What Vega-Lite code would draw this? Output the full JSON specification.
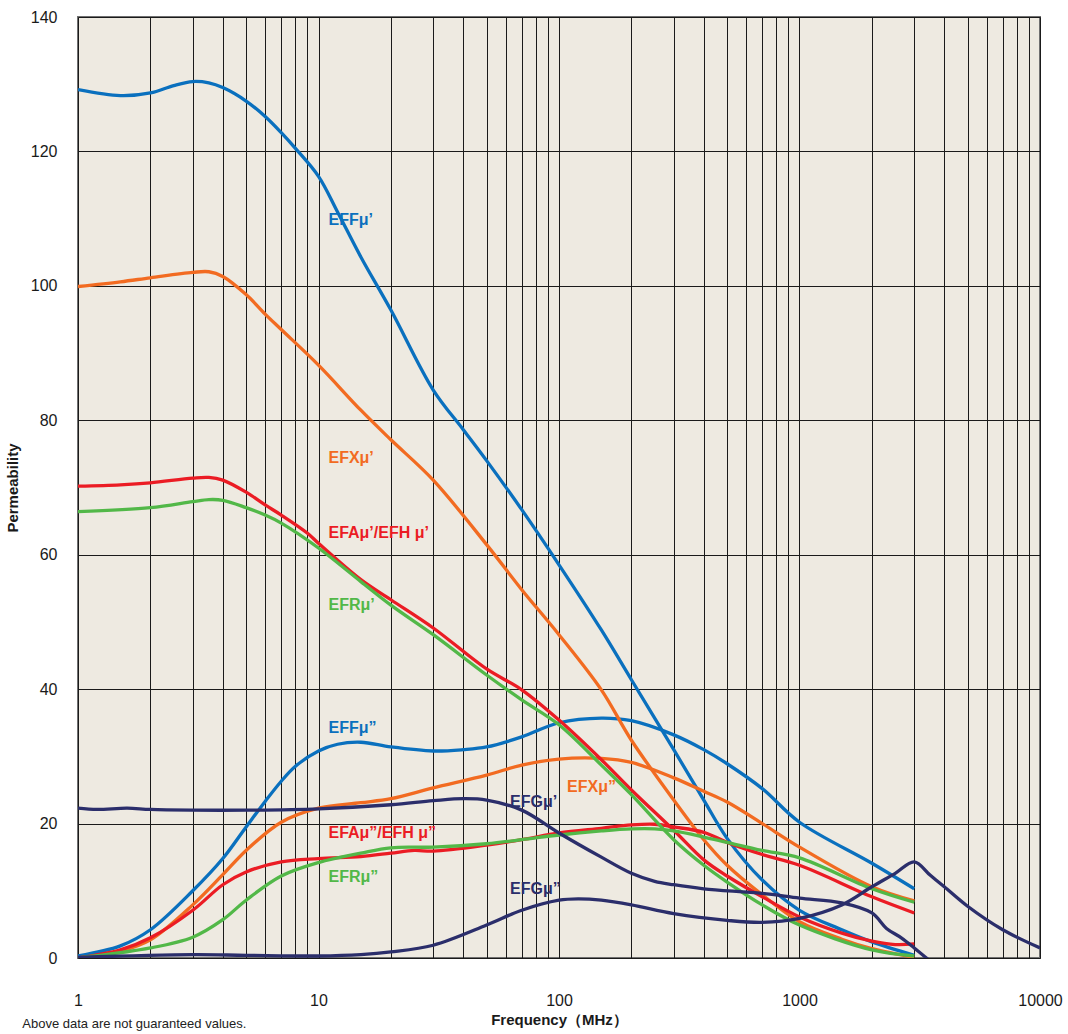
{
  "$schema": "https://vega.github.io/schema/vega-lite/v6.json",
  "width": 962,
  "height": 941,
  "autosize": {"type": "none"},
  "padding": {"left": 78, "top": 17, "right": 28, "bottom": 76},
  "background": "white",
  "title": {
    "text": "Above data are not guaranteed values.",
    "orient": "bottom",
    "anchor": "start",
    "frame": "bounds",
    "fontSize": 13,
    "fontWeight": "normal",
    "font": "Liberation Sans",
    "color": "#222222",
    "offset": -9,
    "dx": 17
  },
  "config": {
    "view": {"fill": "#EEEAE1", "stroke": "#707070", "strokeWidth": 2},
    "font": "Liberation Sans"
  },
  "datasets": {
    "curves": [
      {"g": "EFF", "s": "EFF1", "f": 1, "v": 129.2}, {"g": "EFF", "s": "EFF1", "f": 1.5, "v": 128.3}, {"g": "EFF", "s": "EFF1", "f": 2, "v": 128.7}, {"g": "EFF", "s": "EFF1", "f": 2.5, "v": 129.8}, {"g": "EFF", "s": "EFF1", "f": 3, "v": 130.4}, {"g": "EFF", "s": "EFF1", "f": 3.5, "v": 130.2}, {"g": "EFF", "s": "EFF1", "f": 4, "v": 129.5}, {"g": "EFF", "s": "EFF1", "f": 5, "v": 127.5}, {"g": "EFF", "s": "EFF1", "f": 6, "v": 125.2}, {"g": "EFF", "s": "EFF1", "f": 7, "v": 122.8}, {"g": "EFF", "s": "EFF1", "f": 8, "v": 120.5}, {"g": "EFF", "s": "EFF1", "f": 10, "v": 116.3}, {"g": "EFF", "s": "EFF1", "f": 12, "v": 111}, {"g": "EFF", "s": "EFF1", "f": 15, "v": 104.3}, {"g": "EFF", "s": "EFF1", "f": 20, "v": 96.4}, {"g": "EFF", "s": "EFF1", "f": 30, "v": 84.5}, {"g": "EFF", "s": "EFF1", "f": 40, "v": 78.6}, {"g": "EFF", "s": "EFF1", "f": 50, "v": 74}, {"g": "EFF", "s": "EFF1", "f": 70, "v": 66.7}, {"g": "EFF", "s": "EFF1", "f": 100, "v": 58.5}, {"g": "EFF", "s": "EFF1", "f": 150, "v": 48.8}, {"g": "EFF", "s": "EFF1", "f": 200, "v": 41.4}, {"g": "EFF", "s": "EFF1", "f": 300, "v": 31}, {"g": "EFF", "s": "EFF1", "f": 400, "v": 23.5}, {"g": "EFF", "s": "EFF1", "f": 500, "v": 17.8}, {"g": "EFF", "s": "EFF1", "f": 700, "v": 11.6}, {"g": "EFF", "s": "EFF1", "f": 1000, "v": 7.1}, {"g": "EFF", "s": "EFF1", "f": 1500, "v": 4.2}, {"g": "EFF", "s": "EFF1", "f": 2000, "v": 2.4}, {"g": "EFF", "s": "EFF1", "f": 3000, "v": 0.4},

      {"g": "EFF", "s": "EFF2", "f": 1, "v": 0.3}, {"g": "EFF", "s": "EFF2", "f": 1.5, "v": 1.8}, {"g": "EFF", "s": "EFF2", "f": 2, "v": 4.2}, {"g": "EFF", "s": "EFF2", "f": 3, "v": 10}, {"g": "EFF", "s": "EFF2", "f": 4, "v": 14.8}, {"g": "EFF", "s": "EFF2", "f": 5, "v": 19.5}, {"g": "EFF", "s": "EFF2", "f": 6, "v": 23.3}, {"g": "EFF", "s": "EFF2", "f": 7, "v": 26.3}, {"g": "EFF", "s": "EFF2", "f": 8, "v": 28.5}, {"g": "EFF", "s": "EFF2", "f": 10, "v": 30.8}, {"g": "EFF", "s": "EFF2", "f": 12, "v": 31.8}, {"g": "EFF", "s": "EFF2", "f": 15, "v": 32.1}, {"g": "EFF", "s": "EFF2", "f": 20, "v": 31.4}, {"g": "EFF", "s": "EFF2", "f": 30, "v": 30.8}, {"g": "EFF", "s": "EFF2", "f": 40, "v": 31}, {"g": "EFF", "s": "EFF2", "f": 50, "v": 31.4}, {"g": "EFF", "s": "EFF2", "f": 70, "v": 32.9}, {"g": "EFF", "s": "EFF2", "f": 100, "v": 35}, {"g": "EFF", "s": "EFF2", "f": 150, "v": 35.7}, {"g": "EFF", "s": "EFF2", "f": 200, "v": 35.3}, {"g": "EFF", "s": "EFF2", "f": 300, "v": 33.2}, {"g": "EFF", "s": "EFF2", "f": 400, "v": 31}, {"g": "EFF", "s": "EFF2", "f": 500, "v": 28.9}, {"g": "EFF", "s": "EFF2", "f": 700, "v": 25.2}, {"g": "EFF", "s": "EFF2", "f": 1000, "v": 20.2}, {"g": "EFF", "s": "EFF2", "f": 2000, "v": 14.1}, {"g": "EFF", "s": "EFF2", "f": 3000, "v": 10.3},

      {"g": "EFX", "s": "EFX1", "f": 1, "v": 99.9}, {"g": "EFX", "s": "EFX1", "f": 1.5, "v": 100.6}, {"g": "EFX", "s": "EFX1", "f": 2, "v": 101.2}, {"g": "EFX", "s": "EFX1", "f": 3, "v": 102}, {"g": "EFX", "s": "EFX1", "f": 3.5, "v": 102.1}, {"g": "EFX", "s": "EFX1", "f": 4, "v": 101.4}, {"g": "EFX", "s": "EFX1", "f": 5, "v": 98.7}, {"g": "EFX", "s": "EFX1", "f": 6, "v": 95.8}, {"g": "EFX", "s": "EFX1", "f": 7, "v": 93.5}, {"g": "EFX", "s": "EFX1", "f": 10, "v": 88.2}, {"g": "EFX", "s": "EFX1", "f": 15, "v": 81.5}, {"g": "EFX", "s": "EFX1", "f": 20, "v": 77.1}, {"g": "EFX", "s": "EFX1", "f": 30, "v": 71.1}, {"g": "EFX", "s": "EFX1", "f": 50, "v": 61.5}, {"g": "EFX", "s": "EFX1", "f": 70, "v": 54.8}, {"g": "EFX", "s": "EFX1", "f": 100, "v": 48.1}, {"g": "EFX", "s": "EFX1", "f": 150, "v": 39.9}, {"g": "EFX", "s": "EFX1", "f": 200, "v": 32.4}, {"g": "EFX", "s": "EFX1", "f": 300, "v": 23.5}, {"g": "EFX", "s": "EFX1", "f": 400, "v": 17.6}, {"g": "EFX", "s": "EFX1", "f": 500, "v": 13.8}, {"g": "EFX", "s": "EFX1", "f": 700, "v": 9.4}, {"g": "EFX", "s": "EFX1", "f": 1000, "v": 5.4}, {"g": "EFX", "s": "EFX1", "f": 1500, "v": 2.8}, {"g": "EFX", "s": "EFX1", "f": 2000, "v": 1.4}, {"g": "EFX", "s": "EFX1", "f": 3000, "v": 0.1},

      {"g": "EFX", "s": "EFX2", "f": 1, "v": 0}, {"g": "EFX", "s": "EFX2", "f": 1.5, "v": 1}, {"g": "EFX", "s": "EFX2", "f": 2, "v": 2.7}, {"g": "EFX", "s": "EFX2", "f": 3, "v": 7.9}, {"g": "EFX", "s": "EFX2", "f": 4, "v": 12.4}, {"g": "EFX", "s": "EFX2", "f": 5, "v": 16}, {"g": "EFX", "s": "EFX2", "f": 7, "v": 20.2}, {"g": "EFX", "s": "EFX2", "f": 10, "v": 22.3}, {"g": "EFX", "s": "EFX2", "f": 15, "v": 23.1}, {"g": "EFX", "s": "EFX2", "f": 20, "v": 23.7}, {"g": "EFX", "s": "EFX2", "f": 30, "v": 25.3}, {"g": "EFX", "s": "EFX2", "f": 50, "v": 27.2}, {"g": "EFX", "s": "EFX2", "f": 70, "v": 28.7}, {"g": "EFX", "s": "EFX2", "f": 100, "v": 29.6}, {"g": "EFX", "s": "EFX2", "f": 150, "v": 29.7}, {"g": "EFX", "s": "EFX2", "f": 200, "v": 29.1}, {"g": "EFX", "s": "EFX2", "f": 300, "v": 26.8}, {"g": "EFX", "s": "EFX2", "f": 400, "v": 24.8}, {"g": "EFX", "s": "EFX2", "f": 500, "v": 23.2}, {"g": "EFX", "s": "EFX2", "f": 700, "v": 20}, {"g": "EFX", "s": "EFX2", "f": 1000, "v": 16.5}, {"g": "EFX", "s": "EFX2", "f": 2000, "v": 10.6}, {"g": "EFX", "s": "EFX2", "f": 3000, "v": 8.5},

      {"g": "EFA", "s": "EFA1", "f": 1, "v": 70.2}, {"g": "EFA", "s": "EFA1", "f": 1.5, "v": 70.4}, {"g": "EFA", "s": "EFA1", "f": 2, "v": 70.7}, {"g": "EFA", "s": "EFA1", "f": 3, "v": 71.4}, {"g": "EFA", "s": "EFA1", "f": 3.5, "v": 71.5}, {"g": "EFA", "s": "EFA1", "f": 4, "v": 71.1}, {"g": "EFA", "s": "EFA1", "f": 5, "v": 69.3}, {"g": "EFA", "s": "EFA1", "f": 6, "v": 67.4}, {"g": "EFA", "s": "EFA1", "f": 7, "v": 65.9}, {"g": "EFA", "s": "EFA1", "f": 9, "v": 63.2}, {"g": "EFA", "s": "EFA1", "f": 10, "v": 61.7}, {"g": "EFA", "s": "EFA1", "f": 15, "v": 56.3}, {"g": "EFA", "s": "EFA1", "f": 20, "v": 53.3}, {"g": "EFA", "s": "EFA1", "f": 30, "v": 49.1}, {"g": "EFA", "s": "EFA1", "f": 50, "v": 43}, {"g": "EFA", "s": "EFA1", "f": 70, "v": 39.9}, {"g": "EFA", "s": "EFA1", "f": 100, "v": 35.4}, {"g": "EFA", "s": "EFA1", "f": 150, "v": 29.5}, {"g": "EFA", "s": "EFA1", "f": 200, "v": 25}, {"g": "EFA", "s": "EFA1", "f": 300, "v": 19}, {"g": "EFA", "s": "EFA1", "f": 400, "v": 14.6}, {"g": "EFA", "s": "EFA1", "f": 500, "v": 12.2}, {"g": "EFA", "s": "EFA1", "f": 700, "v": 9.1}, {"g": "EFA", "s": "EFA1", "f": 1000, "v": 6.1}, {"g": "EFA", "s": "EFA1", "f": 1500, "v": 3.7}, {"g": "EFA", "s": "EFA1", "f": 2000, "v": 2.5}, {"g": "EFA", "s": "EFA1", "f": 2500, "v": 2}, {"g": "EFA", "s": "EFA1", "f": 3000, "v": 2.1},

      {"g": "EFA", "s": "EFA2", "f": 1, "v": 0}, {"g": "EFA", "s": "EFA2", "f": 1.5, "v": 1.2}, {"g": "EFA", "s": "EFA2", "f": 2, "v": 3}, {"g": "EFA", "s": "EFA2", "f": 3, "v": 7.1}, {"g": "EFA", "s": "EFA2", "f": 4, "v": 10.9}, {"g": "EFA", "s": "EFA2", "f": 5, "v": 12.8}, {"g": "EFA", "s": "EFA2", "f": 7, "v": 14.3}, {"g": "EFA", "s": "EFA2", "f": 10, "v": 14.8}, {"g": "EFA", "s": "EFA2", "f": 15, "v": 15.1}, {"g": "EFA", "s": "EFA2", "f": 20, "v": 15.6}, {"g": "EFA", "s": "EFA2", "f": 25, "v": 16}, {"g": "EFA", "s": "EFA2", "f": 30, "v": 15.9}, {"g": "EFA", "s": "EFA2", "f": 50, "v": 16.8}, {"g": "EFA", "s": "EFA2", "f": 70, "v": 17.6}, {"g": "EFA", "s": "EFA2", "f": 100, "v": 18.6}, {"g": "EFA", "s": "EFA2", "f": 150, "v": 19.3}, {"g": "EFA", "s": "EFA2", "f": 200, "v": 19.8}, {"g": "EFA", "s": "EFA2", "f": 250, "v": 19.9}, {"g": "EFA", "s": "EFA2", "f": 300, "v": 19.5}, {"g": "EFA", "s": "EFA2", "f": 400, "v": 18.7}, {"g": "EFA", "s": "EFA2", "f": 500, "v": 17.2}, {"g": "EFA", "s": "EFA2", "f": 700, "v": 15.4}, {"g": "EFA", "s": "EFA2", "f": 1000, "v": 13.8}, {"g": "EFA", "s": "EFA2", "f": 2000, "v": 9.1}, {"g": "EFA", "s": "EFA2", "f": 3000, "v": 6.7},

      {"g": "EFR", "s": "EFR1", "f": 1, "v": 66.4}, {"g": "EFR", "s": "EFR1", "f": 2, "v": 67}, {"g": "EFR", "s": "EFR1", "f": 3, "v": 67.9}, {"g": "EFR", "s": "EFR1", "f": 3.5, "v": 68.2}, {"g": "EFR", "s": "EFR1", "f": 4, "v": 68.1}, {"g": "EFR", "s": "EFR1", "f": 5, "v": 67}, {"g": "EFR", "s": "EFR1", "f": 6, "v": 65.9}, {"g": "EFR", "s": "EFR1", "f": 7, "v": 64.7}, {"g": "EFR", "s": "EFR1", "f": 10, "v": 61}, {"g": "EFR", "s": "EFR1", "f": 15, "v": 56}, {"g": "EFR", "s": "EFR1", "f": 20, "v": 52.5}, {"g": "EFR", "s": "EFR1", "f": 30, "v": 48.1}, {"g": "EFR", "s": "EFR1", "f": 50, "v": 42.1}, {"g": "EFR", "s": "EFR1", "f": 70, "v": 38.4}, {"g": "EFR", "s": "EFR1", "f": 100, "v": 34.7}, {"g": "EFR", "s": "EFR1", "f": 150, "v": 28.7}, {"g": "EFR", "s": "EFR1", "f": 200, "v": 24.3}, {"g": "EFR", "s": "EFR1", "f": 300, "v": 17.6}, {"g": "EFR", "s": "EFR1", "f": 400, "v": 13.8}, {"g": "EFR", "s": "EFR1", "f": 500, "v": 11.3}, {"g": "EFR", "s": "EFR1", "f": 700, "v": 7.9}, {"g": "EFR", "s": "EFR1", "f": 1000, "v": 4.9}, {"g": "EFR", "s": "EFR1", "f": 2000, "v": 1.2}, {"g": "EFR", "s": "EFR1", "f": 3000, "v": 0.3},

      {"g": "EFR", "s": "EFR2", "f": 1, "v": 0}, {"g": "EFR", "s": "EFR2", "f": 2, "v": 1.5}, {"g": "EFR", "s": "EFR2", "f": 3, "v": 3.1}, {"g": "EFR", "s": "EFR2", "f": 4, "v": 5.7}, {"g": "EFR", "s": "EFR2", "f": 5, "v": 8.6}, {"g": "EFR", "s": "EFR2", "f": 7, "v": 12.2}, {"g": "EFR", "s": "EFR2", "f": 10, "v": 14.2}, {"g": "EFR", "s": "EFR2", "f": 15, "v": 15.6}, {"g": "EFR", "s": "EFR2", "f": 20, "v": 16.4}, {"g": "EFR", "s": "EFR2", "f": 30, "v": 16.5}, {"g": "EFR", "s": "EFR2", "f": 50, "v": 17}, {"g": "EFR", "s": "EFR2", "f": 70, "v": 17.6}, {"g": "EFR", "s": "EFR2", "f": 100, "v": 18.3}, {"g": "EFR", "s": "EFR2", "f": 150, "v": 18.9}, {"g": "EFR", "s": "EFR2", "f": 200, "v": 19.2}, {"g": "EFR", "s": "EFR2", "f": 250, "v": 19.2}, {"g": "EFR", "s": "EFR2", "f": 300, "v": 18.9}, {"g": "EFR", "s": "EFR2", "f": 400, "v": 18}, {"g": "EFR", "s": "EFR2", "f": 500, "v": 17.2}, {"g": "EFR", "s": "EFR2", "f": 700, "v": 16}, {"g": "EFR", "s": "EFR2", "f": 1000, "v": 14.9}, {"g": "EFR", "s": "EFR2", "f": 2000, "v": 10.3}, {"g": "EFR", "s": "EFR2", "f": 3000, "v": 8.3},

      {"g": "EFG", "s": "EFG1", "f": 1, "v": 22.3}, {"g": "EFG", "s": "EFG1", "f": 1.2, "v": 22.1}, {"g": "EFG", "s": "EFG1", "f": 1.6, "v": 22.3}, {"g": "EFG", "s": "EFG1", "f": 2, "v": 22.1}, {"g": "EFG", "s": "EFG1", "f": 3, "v": 22}, {"g": "EFG", "s": "EFG1", "f": 5, "v": 22}, {"g": "EFG", "s": "EFG1", "f": 10, "v": 22.2}, {"g": "EFG", "s": "EFG1", "f": 20, "v": 22.8}, {"g": "EFG", "s": "EFG1", "f": 30, "v": 23.4}, {"g": "EFG", "s": "EFG1", "f": 40, "v": 23.7}, {"g": "EFG", "s": "EFG1", "f": 50, "v": 23.5}, {"g": "EFG", "s": "EFG1", "f": 70, "v": 22}, {"g": "EFG", "s": "EFG1", "f": 100, "v": 18.6}, {"g": "EFG", "s": "EFG1", "f": 150, "v": 15}, {"g": "EFG", "s": "EFG1", "f": 200, "v": 12.6}, {"g": "EFG", "s": "EFG1", "f": 250, "v": 11.4}, {"g": "EFG", "s": "EFG1", "f": 300, "v": 10.9}, {"g": "EFG", "s": "EFG1", "f": 400, "v": 10.3}, {"g": "EFG", "s": "EFG1", "f": 700, "v": 9.6}, {"g": "EFG", "s": "EFG1", "f": 1000, "v": 8.9}, {"g": "EFG", "s": "EFG1", "f": 1500, "v": 8.2}, {"g": "EFG", "s": "EFG1", "f": 2000, "v": 6.7}, {"g": "EFG", "s": "EFG1", "f": 2300, "v": 4.4}, {"g": "EFG", "s": "EFG1", "f": 2650, "v": 3}, {"g": "EFG", "s": "EFG1", "f": 3000, "v": 1.5}, {"g": "EFG", "s": "EFG1", "f": 3450, "v": -0.3},

      {"g": "EFG", "s": "EFG2", "f": 1, "v": 0.1}, {"g": "EFG", "s": "EFG2", "f": 3, "v": 0.5}, {"g": "EFG", "s": "EFG2", "f": 5, "v": 0.4}, {"g": "EFG", "s": "EFG2", "f": 10, "v": 0.3}, {"g": "EFG", "s": "EFG2", "f": 15, "v": 0.5}, {"g": "EFG", "s": "EFG2", "f": 20, "v": 0.9}, {"g": "EFG", "s": "EFG2", "f": 30, "v": 1.9}, {"g": "EFG", "s": "EFG2", "f": 50, "v": 4.9}, {"g": "EFG", "s": "EFG2", "f": 70, "v": 7.1}, {"g": "EFG", "s": "EFG2", "f": 100, "v": 8.6}, {"g": "EFG", "s": "EFG2", "f": 120, "v": 8.8}, {"g": "EFG", "s": "EFG2", "f": 150, "v": 8.6}, {"g": "EFG", "s": "EFG2", "f": 200, "v": 7.9}, {"g": "EFG", "s": "EFG2", "f": 300, "v": 6.6}, {"g": "EFG", "s": "EFG2", "f": 500, "v": 5.6}, {"g": "EFG", "s": "EFG2", "f": 700, "v": 5.3}, {"g": "EFG", "s": "EFG2", "f": 1000, "v": 5.9}, {"g": "EFG", "s": "EFG2", "f": 1500, "v": 7.9}, {"g": "EFG", "s": "EFG2", "f": 2000, "v": 10.6}, {"g": "EFG", "s": "EFG2", "f": 2500, "v": 12.6}, {"g": "EFG", "s": "EFG2", "f": 3000, "v": 14.3}, {"g": "EFG", "s": "EFG2", "f": 3500, "v": 12.3}, {"g": "EFG", "s": "EFG2", "f": 4000, "v": 10.6}, {"g": "EFG", "s": "EFG2", "f": 5000, "v": 7.7}, {"g": "EFG", "s": "EFG2", "f": 7000, "v": 4.2}, {"g": "EFG", "s": "EFG2", "f": 10000, "v": 1.5}
    ],
    "labels": [
      {"g": "EFF", "t": "EFFμ’", "f": 11, "v": 109.8},
      {"g": "EFX", "t": "EFXμ’", "f": 11, "v": 74.4},
      {"g": "EFA", "t": "EFAμ’/EFH  μ’", "f": 11, "v": 63.2},
      {"g": "EFR", "t": "EFRμ’", "f": 11, "v": 52.5},
      {"g": "EFF", "t": "EFFμ”", "f": 11, "v": 34.2},
      {"g": "EFX", "t": "EFXμ”", "f": 108, "v": 25.4},
      {"g": "EFG", "t": "EFGμ’", "f": 62.6, "v": 23.2},
      {"g": "EFA", "t": "EFAμ”/EFH  μ”", "f": 11, "v": 18.6},
      {"g": "EFR", "t": "EFRμ”", "f": 11, "v": 12.1},
      {"g": "EFG", "t": "EFGμ”", "f": 62.6, "v": 10.3}
    ]
  },
  "layer": [
    {
      "data": {"name": "curves"},
      "mark": {"type": "line", "interpolate": "catmull-rom", "strokeWidth": 3.3, "clip": true},
      "encoding": {
        "x": {
          "field": "f", "type": "quantitative",
          "scale": {"type": "log", "domain": [1, 10000], "nice": false},
          "axis": {
            "values": [1,2,3,4,5,6,7,8,9,10,20,30,40,50,60,70,80,90,100,200,300,400,500,600,700,800,900,1000,2000,3000,4000,5000,6000,7000,8000,9000,10000],
            "labelExpr": "(datum.value==1||datum.value==10||datum.value==100||datum.value==1000||datum.value==10000) ? format(datum.value,'d') : ''",
            "labelOverlap": false,
            "labelFlush": false,
            "labelBound": false,
            "grid": true, "gridColor": "#1a1a1a", "gridWidth": 1, "gridOpacity": 1,
            "ticks": false, "domain": false,
            "labelFontSize": 16, "labelColor": "#1a1a1a", "labelPadding": 34,
            "title": "Frequency（MHz）",
            "titleFontSize": 15, "titleFontWeight": "bold", "titleColor": "#1a1a1a", "titlePadding": 4
          }
        },
        "y": {
          "field": "v", "type": "quantitative",
          "scale": {"domain": [0, 140], "nice": false},
          "axis": {
            "values": [0, 20, 40, 60, 80, 100, 120, 140],
            "grid": true, "gridColor": "#1a1a1a", "gridWidth": 1, "gridOpacity": 1,
            "ticks": false, "domain": false,
            "labelFontSize": 16, "labelColor": "#1a1a1a", "labelPadding": 21,
            "title": "Permeability",
            "titleFontSize": 15, "titleFontWeight": "bold", "titleColor": "#1a1a1a", "titlePadding": 10
          }
        },
        "color": {
          "field": "g", "type": "nominal",
          "scale": {"domain": ["EFF", "EFX", "EFA", "EFR", "EFG"], "range": ["#0A70BE", "#F26B21", "#EB1C24", "#52B848", "#2B2E6B"]},
          "legend": null
        },
        "detail": {"field": "s", "type": "nominal"}
      }
    },
    {
      "data": {"name": "labels"},
      "mark": {"type": "text", "align": "left", "baseline": "middle", "fontSize": 16, "fontWeight": "bold", "font": "Liberation Sans"},
      "encoding": {
        "x": {"field": "f", "type": "quantitative"},
        "y": {"field": "v", "type": "quantitative"},
        "text": {"field": "t"},
        "color": {"field": "g", "type": "nominal", "legend": null}
      }
    }
  ]
}
